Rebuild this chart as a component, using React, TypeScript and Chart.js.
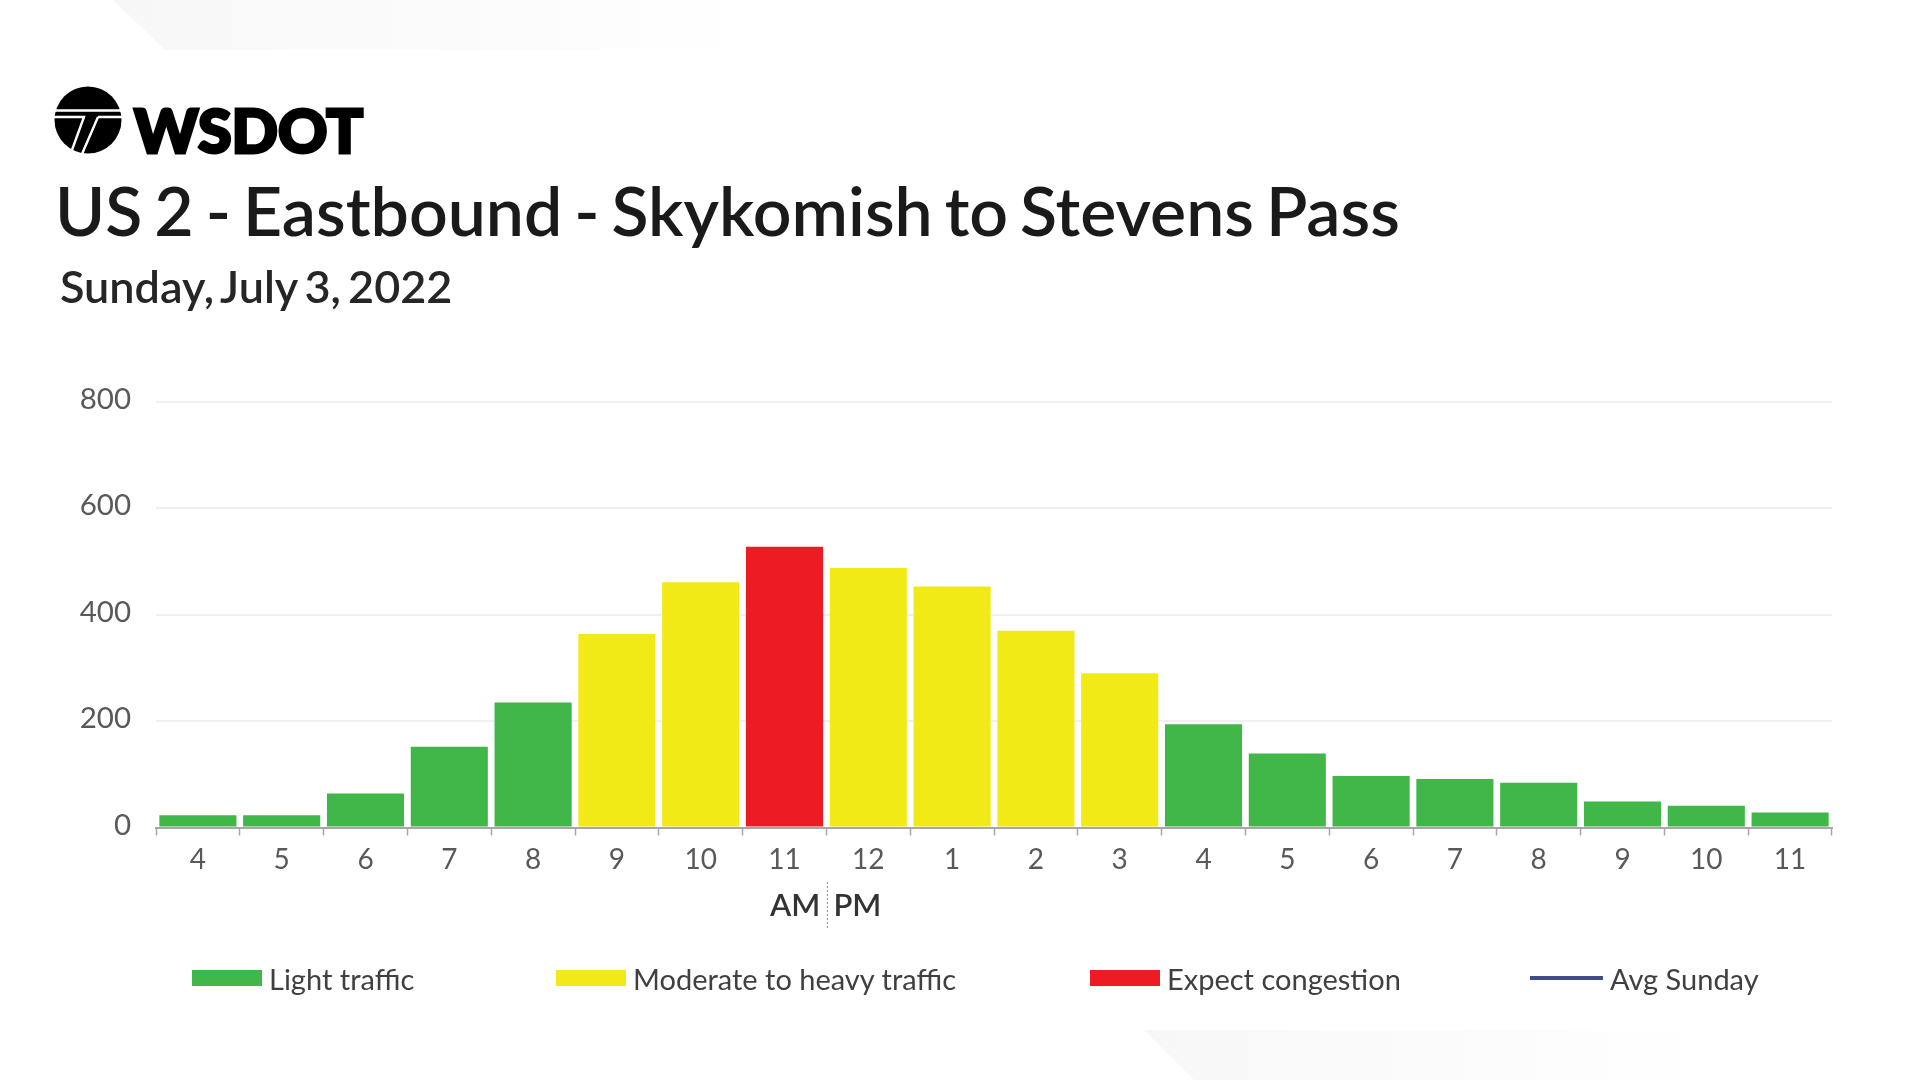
import React, { useEffect, useRef } from 'react';
import Chart from 'chart.js/auto';

const hours = ['4', '5', '6', '7', '8', '9', '10', '11', '12', '1', '2', '3', '4', '5', '6', '7', '8', '9', '10', '11'];
const lightTraffic = [23, 23, 64, 152, 235, null, null, null, null, null, null, null, 194, 139, 97, 91, 84, 49, 41, 28];
const moderateTraffic = [null, null, null, null, null, 364, 461, null, 488, 453, 370, 290, null, null, null, null, null, null, null, null];
const congestion = [null, null, null, null, null, null, null, 528, null, null, null, null, null, null, null, null, null, null, null, null];
const avgSunday: number[] = [];
const yTicks = [0, 200, 400, 600, 800];

const GREEN = '#41b649';
const YELLOW = '#f2ea17';
const RED = '#ed1c24';
const NAVY = '#414e86';
const FONT = 'Lato, "Open Sans", sans-serif';

// AM | PM marker under the axis, lined up with the noon boundary
const amPmPlugin = {
  id: 'amPm',
  afterDraw(chart: any) {
    const { ctx, scales } = chart;
    const x = (scales.x.getPixelForValue(7) + scales.x.getPixelForValue(8)) / 2 + 1;
    ctx.save();
    ctx.strokeStyle = '#8c8c8c';
    ctx.lineWidth = 1;
    ctx.setLineDash([2, 2]);
    ctx.beginPath();
    ctx.moveTo(x, 882);
    ctx.lineTo(x, 928);
    ctx.stroke();
    ctx.fillStyle = '#333333';
    ctx.font = `600 31px ${FONT}`;
    ctx.textBaseline = 'alphabetic';
    ctx.textAlign = 'right';
    ctx.fillText('AM', x - 7, 916);
    ctx.textAlign = 'left';
    ctx.fillText('PM', x + 6, 916);
    ctx.restore();
  },
};

const legendItems = [
  { label: 'Light traffic', color: GREEN, left: 192, line: false },
  { label: 'Moderate to heavy traffic', color: YELLOW, left: 556, line: false },
  { label: 'Expect congestion', color: RED, left: 1090, line: false },
  { label: 'Avg Sunday', color: NAVY, left: 1530, line: true },
];

const abs = (left: number, top: number): React.CSSProperties => ({
  position: 'absolute',
  left,
  top,
  whiteSpace: 'nowrap',
});

export default function App() {
  const canvasRef = useRef<HTMLCanvasElement>(null);

  useEffect(() => {
    document.body.style.margin = '0';
    document.body.style.background = '#ffffff';
    if (!canvasRef.current) return;
    const chart = new Chart(canvasRef.current, {
      type: 'bar',
      data: {
        labels: hours,
        datasets: [
          { label: 'Light traffic', data: lightTraffic, backgroundColor: GREEN },
          { label: 'Moderate to heavy traffic', data: moderateTraffic, backgroundColor: YELLOW },
          { label: 'Expect congestion', data: congestion, backgroundColor: RED },
          { type: 'line', label: 'Avg Sunday', data: avgSunday, borderColor: NAVY, pointRadius: 0 },
        ] as any,
      },
      options: {
        animation: false,
        responsive: false,
        barPercentage: 0.92,
        categoryPercentage: 1,
        layout: { padding: { top: 402, right: 88, left: 0, bottom: 0 } },
        plugins: { legend: { display: false }, title: { display: false }, tooltip: { enabled: false } },
        scales: {
          x: {
            stacked: true,
            afterFit: (scale: any) => { scale.height = 252.5; },
            border: { color: '#a6a6a6', width: 2 },
            grid: { drawOnChartArea: false, color: '#a6a6a6', tickLength: 8, tickWidth: 1.5 },
            ticks: { color: '#595959', font: { family: FONT, size: 28 }, padding: 8, maxRotation: 0, autoSkip: false },
          },
          y: {
            stacked: true,
            min: 0,
            max: 800,
            afterFit: (scale: any) => { scale.width = 156; },
            afterBuildTicks: (scale: any) => { scale.ticks = yTicks.map((value) => ({ value })); },
            border: { display: false },
            grid: { color: '#f0f0f0', lineWidth: 2, drawTicks: false },
            ticks: { color: '#595959', font: { family: FONT, size: 29.5 }, padding: 25, labelOffset: -2.5 },
          },
        },
      },
      plugins: [amPmPlugin],
    } as any);
    return () => chart.destroy();
  }, []);

  return (
    <div style={{ position: 'relative', width: 1920, height: 1080, overflow: 'hidden', background: '#fff', fontFamily: FONT }}>
      <svg width={1920} height={1080} style={{ position: 'absolute', left: 0, top: 0 }}>
        <defs>
          <linearGradient id="fadeTop" x1="0" x2="1" y1="0" y2="0">
            <stop offset="0" stopColor="#f7f7f7" />
            <stop offset="1" stopColor="#ffffff" />
          </linearGradient>
        </defs>
        <polygon points="113,0 760,0 760,50 165,50" fill="url(#fadeTop)" />
        <polygon points="1144,1030 1720,1030 1720,1080 1194,1080" fill="url(#fadeTop)" />
        <circle cx={88} cy={120} r={33.5} fill="#000" />
        <path d="M54,110.5 H122 M54,117 H84 L72,150 M98,117 H122 M98,117 L82,154" stroke="#fff" strokeWidth={2.4} fill="none" />
        <text x={134} y={153} textLength={229} lengthAdjust="spacingAndGlyphs" fontFamily={FONT} fontWeight={900} fontSize={60} fill="#000" stroke="#000" strokeWidth={3}>WSDOT</text>
      </svg>
      <canvas ref={canvasRef} width={1920} height={1080} style={{ position: 'absolute', left: 0, top: 0 }} />
      <div style={{ ...abs(55, 170), fontSize: 68, lineHeight: '80px', fontWeight: 600, wordSpacing: -5, color: '#1a1a1a' }}>
        US 2 - Eastbound - Skykomish to Stevens Pass
      </div>
      <div style={{ ...abs(60, 260), fontSize: 45, lineHeight: '52px', fontWeight: 600, wordSpacing: -4, color: '#262626' }}>
        Sunday, July 3, 2022
      </div>
      {legendItems.map((item) => (
        <div key={item.label} style={{ ...abs(item.left, 960), height: 36, display: 'flex', alignItems: 'center', fontSize: 29, color: '#404040' }}>
          <span style={{ width: item.line ? 73 : 70, height: item.line ? 4 : 16, background: item.color, marginRight: 7 }} />
          {item.label}
        </div>
      ))}
    </div>
  );
}
